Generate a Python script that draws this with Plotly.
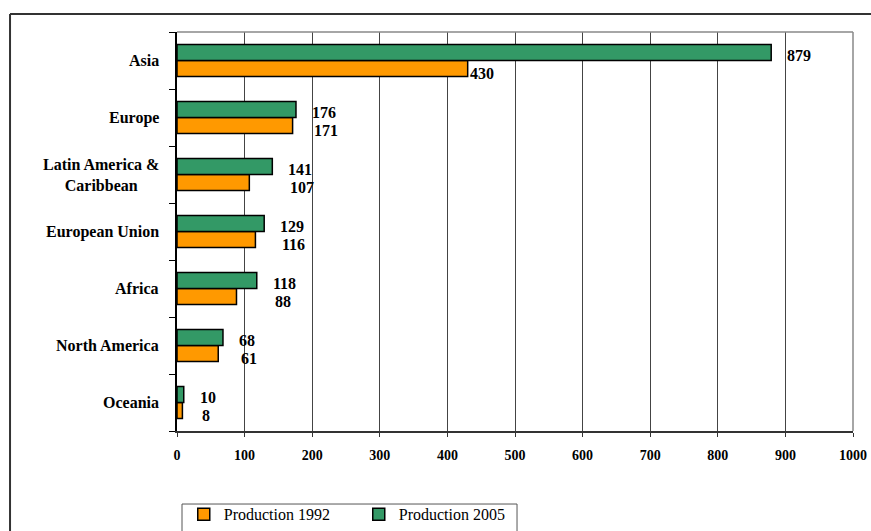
import plotly.graph_objects as go

# Production by region, 1992 vs 2005
regions = ["Asia", "Europe", "Latin America &<br>Caribbean", "European Union",
           "Africa", "North America", "Oceania"]
prod_1992 = [430, 171, 107, 116, 88, 61, 8]
prod_2005 = [879, 176, 141, 129, 118, 68, 10]
x_ticks = [0, 100, 200, 300, 400, 500, 600, 700, 800, 900, 1000]

ORANGE = "#FF9900"
GREEN = "#339966"
SERIF = "Liberation Serif"

fig = go.Figure()
fig.add_trace(go.Bar(
    y=regions, x=prod_1992, orientation="h", name="Production 1992",
    marker=dict(color=ORANGE, line=dict(color="black", width=1.5)),
))
fig.add_trace(go.Bar(
    y=regions, x=prod_2005, orientation="h", name="Production 2005",
    marker=dict(color=GREEN, line=dict(color="black", width=1.5)),
))

annotations = []
# value labels next to the bars
for reg, v92, v05 in zip(regions, prod_1992, prod_2005):
    annotations.append(dict(
        x=v05, y=reg, xref="x", yref="y", text=f"<b>{v05}</b>",
        showarrow=False, xanchor="left", xshift=14, yshift=5,
        font=dict(family=SERIF, size=16, color="black"),
    ))
    x92 = v92 if v92 < v05 / 2 else v05
    annotations.append(dict(
        x=x92, y=reg, xref="x", yref="y", text=f"<b>{v92}</b>",
        showarrow=False, xanchor="left", xshift=16 if x92 == v05 else 0, yshift=-13,
        font=dict(family=SERIF, size=16, color="black"),
    ))
# category labels, centred per line
for reg in regions:
    annotations.append(dict(
        x=0, y=reg, xref="paper", yref="y", text=f"<b>{reg}</b>",
        showarrow=False, xanchor="right", xshift=-16, align="center",
        font=dict(family=SERIF, size=16, color="black"),
    ))

shapes = [
    # outer chart frame (top and left edges)
    dict(type="line", xref="paper", yref="paper", x0=-0.247, x1=1.04, y0=1.045, y1=1.045,
         line=dict(color="#333333", width=2)),
    dict(type="line", xref="paper", yref="paper", x0=-0.247, x1=-0.247, y0=1.045, y1=-0.3,
         line=dict(color="#333333", width=2)),
    # plot area border, top and right
    dict(type="line", xref="paper", yref="paper", x0=0, x1=1, y0=1, y1=1,
         line=dict(color="#888888", width=1.5)),
    dict(type="line", xref="paper", yref="paper", x0=1, x1=1, y0=0, y1=1,
         line=dict(color="#888888", width=1.5)),
    # legend frame
    dict(type="rect", xref="paper", yref="paper", x0=0.0074, x1=0.503, y0=-0.183, y1=-0.3,
         line=dict(color="#555555", width=1)),
]

fig.update_layout(
    width=871, height=531,
    font=dict(family=SERIF),
    margin=dict(l=177, r=18, t=32, b=100, autoexpand=False),
    paper_bgcolor="white", plot_bgcolor="white",
    barmode="group", bargap=0.44, bargroupgap=0,
    showlegend=True,
    legend=dict(
        orientation="h", x=0.01, y=-0.166, xanchor="left", yanchor="top",
        borderwidth=0, bgcolor="rgba(0,0,0,0)",
        font=dict(family=SERIF, size=16, color="black"),
        itemwidth=30, entrywidth=130, traceorder="normal",
    ),
    xaxis=dict(
        range=[0, 1000], tickvals=x_ticks, ticktext=[f"<b>{t}</b>" for t in x_ticks],
        showgrid=True, gridcolor="#444444", gridwidth=1,
        showline=True, linecolor="#333333", linewidth=2,
        ticks="outside", ticklen=4, tickcolor="#333333",
        tickfont=dict(family=SERIF, size=14, color="black"),
        ticklabelstandoff=6, zeroline=False, fixedrange=True, automargin=False,
    ),
    yaxis=dict(
        categoryorder="array", categoryarray=regions[::-1],
        showticklabels=False, showgrid=False,
        showline=True, linecolor="black", linewidth=1.5,
        ticks="outside", ticklen=6, tickcolor="black", tickson="boundaries",
        zeroline=False, fixedrange=True, automargin=False,
    ),
    annotations=annotations,
    shapes=shapes,
)

fig.write_html("out.html")
